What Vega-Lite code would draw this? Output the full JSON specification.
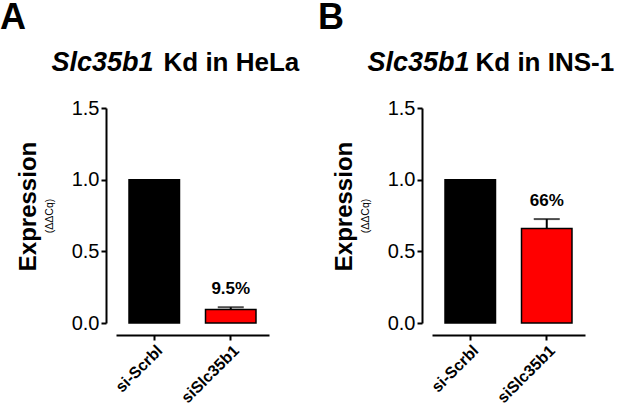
{
  "$schema": "https://vega.github.io/schema/vega-lite/v6.json",
  "padding": {"left": 0, "top": 0, "right": 0, "bottom": 0},
  "background": "white",
  "datasets": {
    "hela": [
      {"group": "si-Scrbl", "expr": 1.0, "err": null, "label": ""},
      {"group": "siSlc35b1", "expr": 0.095, "err": 0.11, "label": "9.5%"}
    ],
    "ins1": [
      {"group": "si-Scrbl", "expr": 1.0, "err": null, "label": ""},
      {"group": "siSlc35b1", "expr": 0.66, "err": 0.725, "label": "66%"}
    ]
  },
  "spacing": 19,
  "hconcat": [
    {
      "title": {"text": "A", "anchor": "start", "fontSize": 36, "dx": -16, "offset": 11},
      "width": 153,
      "height": 215,
      "data": {"name": "hela"},
      "resolve": {"axis": {"y": "independent", "x": "independent"}},
      "layer": [
        {
          "mark": {"type": "bar", "stroke": "black", "strokeWidth": 1.5},
          "encoding": {
            "x": {
              "field": "group",
              "type": "nominal",
              "sort": null,
              "title": null,
              "scale": {"paddingInner": 0.34, "paddingOuter": 0.17},
              "axis": {"offset": 12, "labelAngle": -45, "labelAlign": "right", "labelBaseline": "top", "labelPadding": 2, "labelDx": 7, "labelFontSize": 16, "labelFontWeight": "bold", "tickSize": 5}
            },
            "y": {
              "field": "expr",
              "type": "quantitative",
              "scale": {"domain": [0, 1.5], "nice": false},
              "axis": {"offset": 10, "values": [0, 0.5, 1, 1.5], "format": ".1f", "labelFontSize": 20, "tickSize": 5, "title": "(ΔΔCq)", "titleFontSize": 10.5, "titleFontWeight": "normal", "titlePadding": 17}
            },
            "color": {"field": "group", "type": "nominal", "legend": null, "scale": {"range": ["#000000", "#ff0000"]}}
          }
        },
        {
          "transform": [{"filter": "datum.err != null"}],
          "mark": {"type": "rule", "color": "black", "strokeWidth": 2},
          "encoding": {
            "x": {
              "field": "group",
              "type": "nominal",
              "sort": null,
              "axis": {"orient": "top", "domain": false, "ticks": false, "labels": false, "title": "Slc35b1", "titleFontSize": 27, "titleFontWeight": "bold", "titleFontStyle": "italic", "titleAlign": "left", "titleBaseline": "alphabetic", "titleX": -65, "titleY": -38}
            },
            "y": {
              "field": "expr",
              "type": "quantitative",
              "axis": {"orient": "left", "offset": 10, "domain": false, "ticks": false, "labels": false, "title": "Expression", "titleFontSize": 24, "titleFontWeight": "bold", "titlePadding": 66, "titleY": 98}
            },
            "y2": {"field": "err"}
          }
        },
        {
          "transform": [{"filter": "datum.err != null"}],
          "mark": {"type": "tick", "color": "black", "thickness": 2, "size": 26},
          "encoding": {
            "x": {
              "field": "group",
              "type": "nominal",
              "sort": null,
              "axis": {"orient": "top", "domain": false, "ticks": false, "labels": false, "title": "Kd in HeLa", "titleFontSize": 26, "titleFontWeight": "bold", "titleAlign": "left", "titleBaseline": "alphabetic", "titleX": 47, "titleY": -38}
            },
            "y": {"field": "err", "type": "quantitative", "axis": null}
          }
        },
        {
          "mark": {"type": "text", "fontSize": 17, "fontWeight": "bold", "baseline": "middle", "dy": -18, "color": "black"},
          "encoding": {
            "x": {"field": "group", "type": "nominal", "sort": null, "axis": null},
            "y": {"field": "err", "type": "quantitative", "axis": null},
            "text": {"field": "label"}
          }
        }
      ]
    },
    {
      "title": {"text": "B", "anchor": "start", "fontSize": 36, "dx": -14, "offset": 11},
      "width": 153,
      "height": 215,
      "data": {"name": "ins1"},
      "resolve": {"axis": {"y": "independent", "x": "independent"}},
      "layer": [
        {
          "mark": {"type": "bar", "stroke": "black", "strokeWidth": 1.5},
          "encoding": {
            "x": {
              "field": "group",
              "type": "nominal",
              "sort": null,
              "title": null,
              "scale": {"paddingInner": 0.34, "paddingOuter": 0.17},
              "axis": {"offset": 12, "labelAngle": -45, "labelAlign": "right", "labelBaseline": "top", "labelPadding": 2, "labelDx": 7, "labelFontSize": 16, "labelFontWeight": "bold", "tickSize": 5}
            },
            "y": {
              "field": "expr",
              "type": "quantitative",
              "scale": {"domain": [0, 1.5], "nice": false},
              "axis": {"offset": 10, "values": [0, 0.5, 1, 1.5], "format": ".1f", "labelFontSize": 20, "tickSize": 5, "title": "(ΔΔCq)", "titleFontSize": 10.5, "titleFontWeight": "normal", "titlePadding": 17}
            },
            "color": {"field": "group", "type": "nominal", "legend": null, "scale": {"range": ["#000000", "#ff0000"]}}
          }
        },
        {
          "transform": [{"filter": "datum.err != null"}],
          "mark": {"type": "rule", "color": "black", "strokeWidth": 2},
          "encoding": {
            "x": {
              "field": "group",
              "type": "nominal",
              "sort": null,
              "axis": {"orient": "top", "domain": false, "ticks": false, "labels": false, "title": "Slc35b1", "titleFontSize": 27, "titleFontWeight": "bold", "titleFontStyle": "italic", "titleAlign": "left", "titleBaseline": "alphabetic", "titleX": -65, "titleY": -38}
            },
            "y": {
              "field": "expr",
              "type": "quantitative",
              "axis": {"orient": "left", "offset": 10, "domain": false, "ticks": false, "labels": false, "title": "Expression", "titleFontSize": 24, "titleFontWeight": "bold", "titlePadding": 66, "titleY": 98}
            },
            "y2": {"field": "err"}
          }
        },
        {
          "transform": [{"filter": "datum.err != null"}],
          "mark": {"type": "tick", "color": "black", "thickness": 2, "size": 26},
          "encoding": {
            "x": {
              "field": "group",
              "type": "nominal",
              "sort": null,
              "axis": {"orient": "top", "domain": false, "ticks": false, "labels": false, "title": "Kd in INS-1", "titleFontSize": 26, "titleFontWeight": "bold", "titleAlign": "left", "titleBaseline": "alphabetic", "titleX": 43, "titleY": -38}
            },
            "y": {"field": "err", "type": "quantitative", "axis": null}
          }
        },
        {
          "mark": {"type": "text", "fontSize": 17, "fontWeight": "bold", "baseline": "middle", "dy": -18, "color": "black"},
          "encoding": {
            "x": {"field": "group", "type": "nominal", "sort": null, "axis": null},
            "y": {"field": "err", "type": "quantitative", "axis": null},
            "text": {"field": "label"}
          }
        }
      ]
    }
  ],
  "config": {
    "font": "Liberation Sans",
    "view": {"stroke": null},
    "title": {"color": "black", "fontWeight": "bold", "font": "Liberation Sans"},
    "axis": {
      "grid": false,
      "domainColor": "black",
      "domainWidth": 2,
      "tickColor": "black",
      "tickWidth": 2,
      "labelColor": "black",
      "titleColor": "black",
      "labelFont": "Liberation Sans",
      "titleFont": "Liberation Sans"
    }
  }
}
